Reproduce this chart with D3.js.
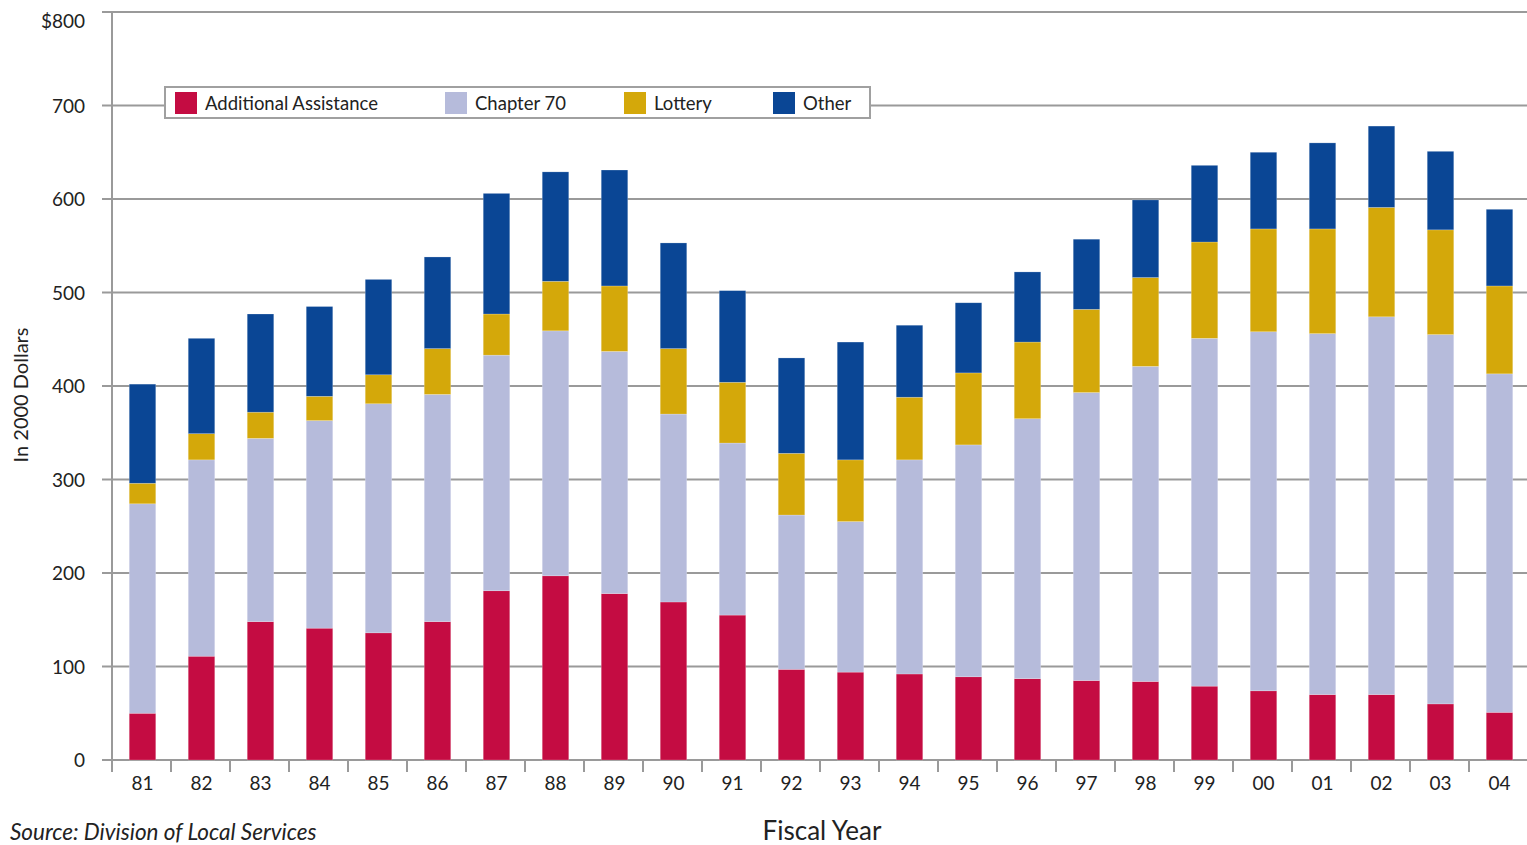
<!DOCTYPE html>
<html>
<head>
<meta charset="utf-8">
<script src="https://cdn.jsdelivr.net/npm/d3@7"></script>
<style>
  html, body { margin: 0; padding: 0; background: #fff; }
  svg { display: block; }
</style>
</head>
<body>
<svg id="chart" width="1527" height="845"></svg>
<script>
// ---- Data ----
const years = ["81","82","83","84","85","86","87","88","89","90","91","92","93","94","95","96","97","98","99","00","01","02","03","04"];
const additionalAssistance = [50,111,148,141,136,148,181,197,178,169,155,97,94,92,89,87,85,84,79,74,70,70,60,51];
const chapter70 = [224,210,196,222,245,243,252,262,259,201,184,165,161,229,248,278,308,337,372,384,386,404,395,362];
const lottery = [22,28,28,26,31,49,44,53,70,70,65,66,66,67,77,82,89,95,103,110,112,117,112,94];
const other = [106,102,105,96,102,98,129,117,124,113,98,102,126,77,75,75,75,83,82,82,92,87,84,82];
const seriesNames = ["Additional Assistance","Chapter 70","Lottery","Other"];
const seriesColors = ["#C40C42","#B6BBDB","#D4A80A","#0A4695"];
const yTicks = [0,100,200,300,400,500,600,700,800];

// ---- Layout ----
const svg = d3.select("#chart");
const font = "Lato, 'Open Sans', sans-serif";
const x0 = 112, x1 = 1528, yBase = 760, yTop = 12;

const x = d3.scaleBand().domain(years).range([x0, x1]).paddingInner(0).paddingOuter(0);
const y = d3.scaleLinear().domain([0, 800]).range([yBase, yTop]);
const barW = x.bandwidth() * 0.45;

const rows = years.map((yr, i) => ({
  year: yr,
  "Additional Assistance": additionalAssistance[i],
  "Chapter 70": chapter70[i],
  "Lottery": lottery[i],
  "Other": other[i]
}));
const stack = d3.stack().keys(seriesNames)(rows);

// gridlines
svg.append("g").selectAll("line").data(yTicks).join("line")
  .attr("x1", 102).attr("x2", 1527)
  .attr("y1", d => y(d)).attr("y2", d => y(d))
  .attr("stroke", "#9a9a9a").attr("stroke-width", 2);

// y axis line
svg.append("line").attr("x1", x0).attr("x2", x0).attr("y1", y(800)).attr("y2", yBase + 12)
  .attr("stroke", "#9a9a9a").attr("stroke-width", 2);

// x tick marks at band boundaries
svg.append("g").selectAll("line").data(years).join("line")
  .attr("x1", d => x(d)).attr("x2", d => x(d))
  .attr("y1", yBase).attr("y2", yBase + 12)
  .attr("stroke", "#9a9a9a").attr("stroke-width", 2);

// bars
svg.append("g").selectAll("g").data(stack).join("g")
  .attr("fill", (d, i) => seriesColors[i])
  .selectAll("rect").data(d => d).join("rect")
  .attr("x", d => x(d.data.year) + (x.bandwidth() - barW) / 2 + 1)
  .attr("width", barW)
  .attr("y", d => y(d[1]))
  .attr("height", d => y(d[0]) - y(d[1]))
  .attr("stroke", "rgba(255,255,255,0.35)").attr("stroke-width", 0.6);

// y tick labels
svg.append("g").selectAll("text").data(yTicks).join("text")
  .attr("x", 85).attr("y", d => y(d) + (d === 800 ? 16 : 7))
  .attr("text-anchor", "end")
  .attr("font-family", font).attr("font-size", 19).attr("fill", "#222")
  .text(d => d === 800 ? "$800" : d);

// x tick labels
svg.append("g").selectAll("text").data(years).join("text")
  .attr("x", d => x(d) + x.bandwidth() / 2 + 1).attr("y", 790)
  .attr("text-anchor", "middle")
  .attr("font-family", font).attr("font-size", 19).attr("fill", "#222")
  .text(d => d);

// y axis title
svg.append("text")
  .attr("transform", "translate(28,395) rotate(-90)")
  .attr("text-anchor", "middle")
  .attr("font-family", font).attr("font-size", 20).attr("fill", "#222")
  .text("In 2000 Dollars");

// x axis title
svg.append("text")
  .attr("x", 822).attr("y", 840)
  .attr("text-anchor", "middle")
  .attr("font-family", font).attr("font-size", 26).attr("fill", "#222")
  .text("Fiscal Year");

// source
svg.append("text")
  .attr("x", 10).attr("y", 840)
  .attr("font-family", font).attr("font-size", 22.5).attr("font-style", "italic").attr("fill", "#222")
  .text("Source: Division of Local Services");

// legend
const legend = svg.append("g");
legend.append("rect").attr("x", 165).attr("y", 87).attr("width", 705).attr("height", 31)
  .attr("fill", "#fff").attr("stroke", "#a0a0a0").attr("stroke-width", 2);
const legX = [175, 445, 624, 773];
seriesNames.forEach((n, i) => {
  legend.append("rect").attr("x", legX[i]).attr("y", 92).attr("width", 22).attr("height", 22)
    .attr("fill", seriesColors[i]);
  legend.append("text").attr("x", legX[i] + 30).attr("y", 110)
    .attr("font-family", font).attr("font-size", 18.5).attr("fill", "#222")
    .text(n);
});
</script>
</body>
</html>
